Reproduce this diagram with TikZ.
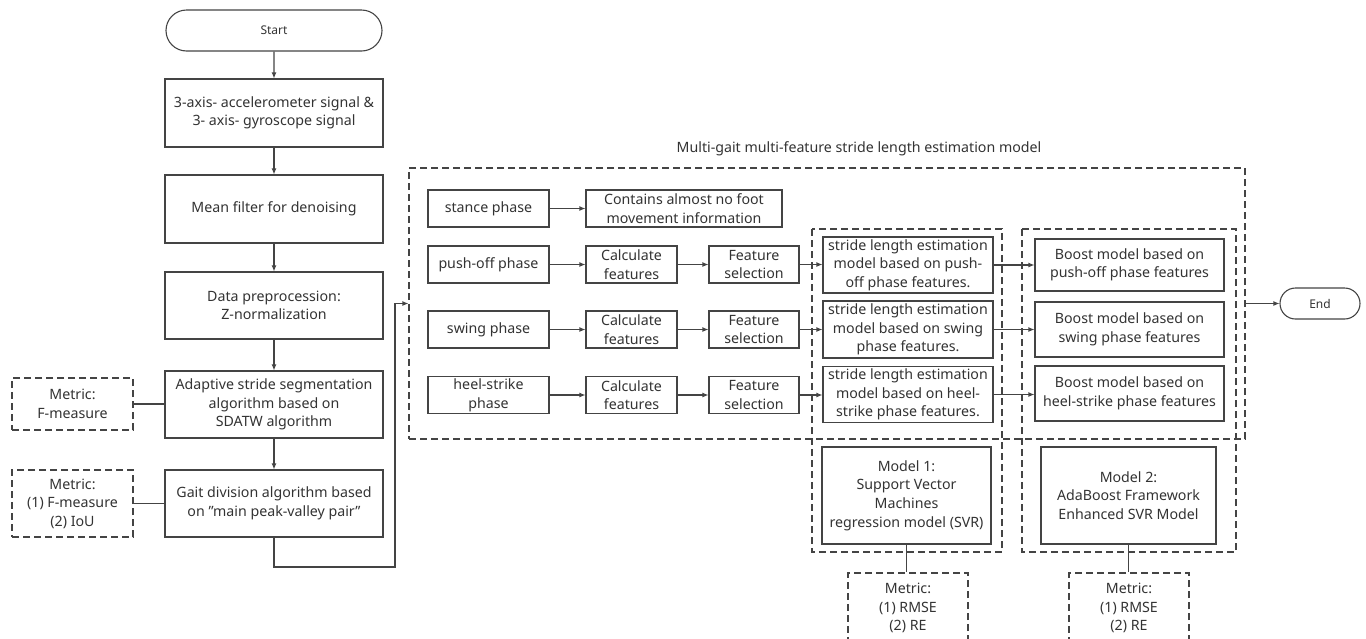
\documentclass[tikz,border=0pt]{standalone}
\usepackage{fontspec}
\setmainfont{Noto Sans}
\usetikzlibrary{arrows.meta,shapes.misc}
\definecolor{lnc}{HTML}{444444}
\definecolor{txc}{HTML}{333333}
\tikzset{
  box/.style={draw=lnc, line width=1.1pt, align=center, text=txc, inner sep=1pt,
    font=\fontsize{14.2}{18.6}\selectfont},
  dbox/.style={box, dash pattern=on 7pt off 4pt},
  grp/.style={draw=lnc, line width=1.1pt, dash pattern=on 7pt off 4pt},
  pill/.style={box, rounded rectangle, font=\fontsize{12}{15}\selectfont},
  arr/.style={draw=lnc, line width=1.1pt, -{Latex[length=6pt,width=5pt]}},
  lnk/.style={draw=lnc, line width=1.1pt},
  ttl/.style={text=txc, font=\fontsize{14.2}{17}\selectfont}
}
\begin{document}
\begin{tikzpicture}[x=1pt,y=-1pt]
\useasboundingbox[fill=white] (0,0) rectangle (1366,638);
% left column
\node[pill, minimum width=218, minimum height=41] (start) at (274,30.5) {Start};
\node[box, minimum width=218, minimum height=68] (b1) at (274,113) {3-axis- accelerometer signal \&\\3- axis- gyroscope signal};
\node[box, minimum width=218, minimum height=68] (b2) at (274,209) {Mean filter for denoising};
\node[box, minimum width=218, minimum height=67] (b3) at (274,305.5) {Data preprocession:\\Z-normalization};
\node[box, minimum width=218, minimum height=67] (b4) at (274,404.5) {Adaptive stride segmentation\\algorithm based on\\SDATW algorithm};
\node[box, minimum width=218, minimum height=67] (b5) at (274,503.5) {Gait division algorithm based\\on \char34 main peak-valley pair\char34};
\node[dbox, minimum width=121, minimum height=52] (m1) at (72.5,404) {Metric:\\F-measure};
\node[dbox, minimum width=121, minimum height=67] (m2) at (72.5,503.5) {Metric:\\(1) F-measure\\(2) IoU};
\draw[arr] (start) -- (b1);
\draw[arr] (b1) -- (b2);
\draw[arr] (b2) -- (b3);
\draw[arr] (b3) -- (b4);
\draw[arr] (b4) -- (b5);
\draw[lnk] (m1.east) -- (m1.east -| b4.west);
\draw[lnk] (m2.east) -- (b5.west);
% big dashed box
\node[ttl] (title) at (859,149) {Multi-gait multi-feature stride length estimation model};
\node[grp, minimum width=836, minimum height=271, inner sep=0pt] (big) at (827,303.5) {};
\coordinate (r1) at (274,567);
\coordinate (r2) at (395,567);
\coordinate (r3) at (395,303.5);
\draw[arr] (b5.south) -- (r1) -- (r2) -- (r3) -- (big.west);
% groups
\draw[grp] (812,229) rectangle (1002,552);
\draw[grp] (1022,229) rectangle (1236,552);
% phase rows
\node[box, minimum width=121, minimum height=37] (st) at (488.5,208.5) {stance phase};
\node[box, minimum width=196, minimum height=37] (ct) at (684,208.5) {Contains almost no foot\\movement information};
\node[box, minimum width=121, minimum height=37] (po) at (488.5,264.5) {push-off phase};
\node[box, minimum width=121, minimum height=37] (sw) at (488.5,329.5) {swing phase};
\node[box, minimum width=121, minimum height=37] (hs) at (488.5,395) {heel-strike\\phase};
\node[box, minimum width=91, minimum height=37] (c1) at (631.5,264.5) {Calculate\\features};
\node[box, minimum width=91, minimum height=37] (c2) at (631.5,329.5) {Calculate\\features};
\node[box, minimum width=91, minimum height=37] (c3) at (631.5,395) {Calculate\\features};
\node[box, minimum width=90, minimum height=37] (f1) at (754,264.5) {Feature\\selection};
\node[box, minimum width=90, minimum height=37] (f2) at (754,329.5) {Feature\\selection};
\node[box, minimum width=90, minimum height=37] (f3) at (754,395) {Feature\\selection};
\node[box, minimum width=170, minimum height=56] (s1) at (908,265) {stride length estimation\\model based on push-\\off phase features.};
\node[box, minimum width=170, minimum height=57] (s2) at (908,329.5) {stride length estimation\\model based on swing\\phase features.};
\node[box, minimum width=170, minimum height=56] (s3) at (908,394.5) {stride length estimation\\model based on heel-\\strike phase features.};
\node[box, minimum width=189, minimum height=52] (o1) at (1129.5,265) {Boost model based on\\push-off phase features};
\node[box, minimum width=189, minimum height=55] (o2) at (1129.5,329.5) {Boost model based on\\swing phase features};
\node[box, minimum width=189, minimum height=55] (o3) at (1129.5,393.5) {Boost model based on\\heel-strike phase features};
\draw[arr] (st) -- (ct);
\draw[arr] (po) -- (c1);
\draw[arr] (sw) -- (c2);
\draw[arr] (hs) -- (c3);
\draw[arr] (c1) -- (f1);
\draw[arr] (c2) -- (f2);
\draw[arr] (c3) -- (f3);
\draw[arr] (f1.east) -- (f1.east -| s1.west);
\draw[arr] (f2.east) -- (f2.east -| s2.west);
\draw[arr] (f3.east) -- (f3.east -| s3.west);
\draw[arr] (s1.east) -- (s1.east -| o1.west);
\draw[arr] (s2.east) -- (s2.east -| o2.west);
\draw[arr] (s3.east) -- (s3.east -| o3.west);
% models
\node[box, minimum width=169, minimum height=97] (md1) at (906.5,495.5) {Model 1:\\Support Vector\\Machines\\regression model (SVR)};
\node[box, minimum width=175, minimum height=97] (md2) at (1128.5,495.5) {Model 2:\\AdaBoost Framework\\Enhanced SVR Model};
\node[dbox, minimum width=120, minimum height=70] (m3) at (908,608) {Metric:\\(1) RMSE\\(2) RE};
\node[dbox, minimum width=120, minimum height=70] (m4) at (1129,608) {Metric:\\(1) RMSE\\(2) RE};
\draw[lnk] (md1.south) -- (md1.south |- m3.north);
\draw[lnk] (md2.south) -- (md2.south |- m4.north);
% end
\node[pill, minimum width=82, minimum height=31] (end) at (1320,303.5) {End};
\draw[arr] (big.east) -- (end);
\end{tikzpicture}
\end{document}
